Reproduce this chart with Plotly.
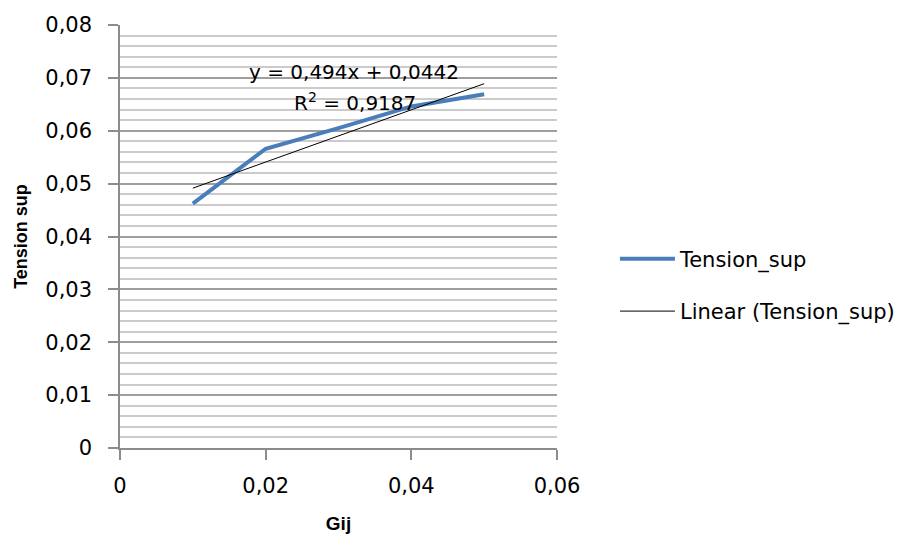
import plotly.graph_objects as go

# Data
gij = [0.01, 0.02, 0.03, 0.04, 0.05]
tension_sup = [0.0462, 0.0566, 0.0605, 0.0646, 0.0669]
trend_slope = 0.494
trend_intercept = 0.0442
r_squared = "0,9187"
x_ticks = [0, 0.02, 0.04, 0.06]
y_ticks = [0, 0.01, 0.02, 0.03, 0.04, 0.05, 0.06, 0.07, 0.08]

trend_x = [min(gij), max(gij)]
trend_y = [trend_slope * v + trend_intercept for v in trend_x]

FONT = "DejaVu Sans"

fig = go.Figure()
fig.add_trace(go.Scatter(
    x=gij, y=tension_sup, mode="lines", name="Tension_sup",
    line=dict(color="#4A7EBB", width=4), legendgroup="a",
))
fig.add_trace(go.Scatter(
    x=trend_x, y=trend_y, mode="lines", name="Linear (Tension_sup)",
    line=dict(color="#000000", width=1), legendgroup="b",
))

fig.add_annotation(x=0.0321, y=0.0711, xref="x", yref="y",
                   text="y = 0,494x + 0,0442", showarrow=False,
                   font=dict(family=FONT, size=20, color="#000"))
fig.add_annotation(x=0.0322, y=0.0655, xref="x", yref="y",
                   text="R<sup>2</sup> = " + r_squared, showarrow=False,
                   font=dict(family=FONT, size=20, color="#000"))

fig.update_layout(
    width=911, height=537,
    margin=dict(l=120, r=353, t=25, b=88.5),
    paper_bgcolor="white", plot_bgcolor="white",
    separators=", ",
    font=dict(family=FONT, size=21, color="#000"),
    showlegend=True,
    legend=dict(x=1.13, y=0.385, xanchor="left", yanchor="middle",
                traceorder="grouped", tracegroupgap=22, itemwidth=55,
                font=dict(family=FONT, size=21, color="#000"),
                bgcolor="rgba(0,0,0,0)"),
    xaxis=dict(
        range=[0, 0.06], tickvals=x_ticks,
        showgrid=False, zeroline=False,
        showline=True, linecolor="#8C8C8C", linewidth=1.5,
        ticks="outside", ticklen=10, tickcolor="#8C8C8C", tickwidth=1.5,
        ticklabelstandoff=8,
        tickfont=dict(family=FONT, size=21, color="#000"),
        title=dict(text="<b>Gij</b>", font=dict(family="Liberation Sans", size=19, color="#000"), standoff=20),
        automargin=False,
    ),
    yaxis=dict(
        range=[0, 0.08], tickvals=y_ticks,
        showgrid=True, gridcolor="#9E9E9E", gridwidth=1.5,
        zeroline=False,
        showline=True, linecolor="#8C8C8C", linewidth=1.5,
        ticks="outside", ticklen=10, tickcolor="#8C8C8C", tickwidth=1.5,
        ticklabelstandoff=12,
        tickfont=dict(family=FONT, size=21, color="#000"),
        minor=dict(dtick=0.002, showgrid=True, gridcolor="#CBCBCB", gridwidth=1.5, ticks=""),
        title=dict(text="<b>Tension sup</b>", font=dict(family="Liberation Sans", size=18, color="#000"), standoff=13),
        automargin=False,
    ),
)

fig.write_html("out.html", config={"displayModeBar": False},
               post_script="document.body.style.margin='0';document.body.style.overflow='hidden';")
